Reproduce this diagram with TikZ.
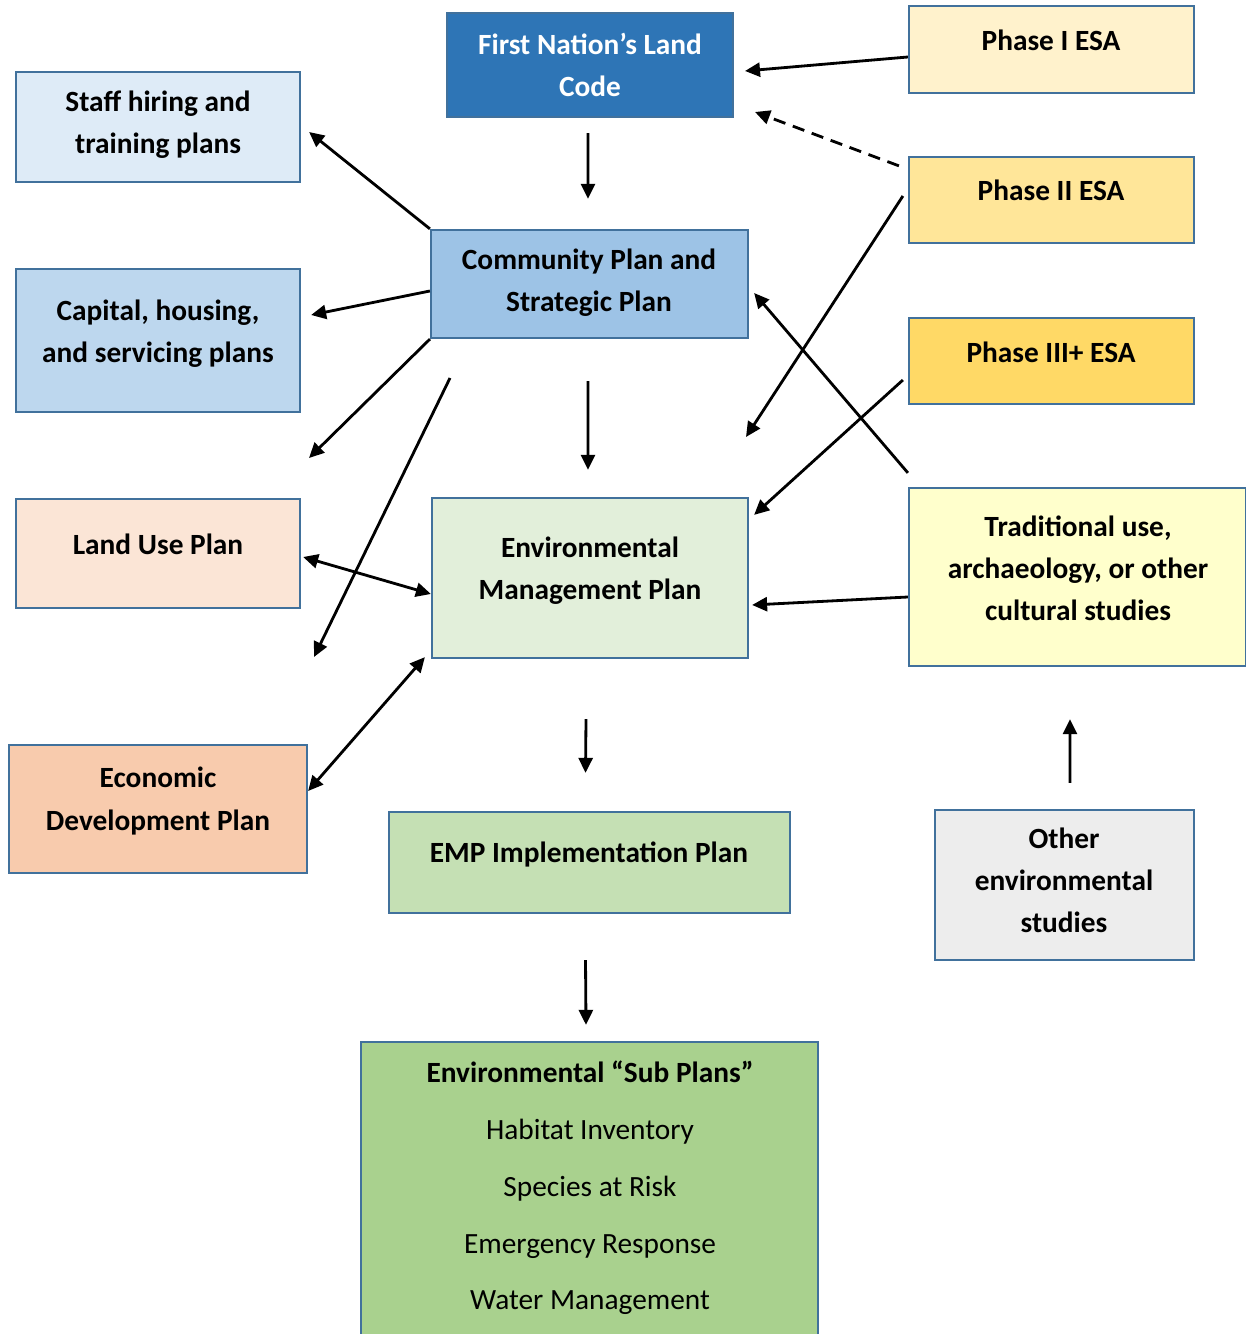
\documentclass[tikz,border=0pt]{standalone}
\usepackage{fontspec}
\setmainfont{Carlito}
\usepackage{tikz}
\usetikzlibrary{arrows.meta,calc}

\definecolor{edge}{HTML}{41719C}
\definecolor{landfill}{HTML}{2E75B6}
\definecolor{phonefill}{HTML}{FFF2CC}
\definecolor{phtwofill}{HTML}{FFE699}
\definecolor{phthreefill}{HTML}{FFD966}
\definecolor{stafffill}{HTML}{DEEBF7}
\definecolor{commfill}{HTML}{9DC3E6}
\definecolor{capfill}{HTML}{BDD7EE}
\definecolor{lufill}{HTML}{FBE5D6}
\definecolor{empfill}{HTML}{E2EFDA}
\definecolor{tradfill}{HTML}{FFFFCC}
\definecolor{econfill}{HTML}{F8CBAD}
\definecolor{implfill}{HTML}{C5E0B4}
\definecolor{otherfill}{HTML}{EDEDED}
\definecolor{subfill}{HTML}{A9D18E}

\begin{document}
\begin{tikzpicture}[x=0.02cm,y=-0.02cm,
    box/.style={draw=edge,line width=1.3pt,inner sep=0pt},
    lbl/.style={font=\fontsize{16.7}{24}\selectfont\bfseries,align=center},
    link/.style={line width=1.6pt,-{Triangle[length=0.3cm,width=0.28cm]}},
    both/.style={line width=1.6pt,{Triangle[length=0.3cm,width=0.28cm]}-{Triangle[length=0.3cm,width=0.28cm]}}]
    \useasboundingbox (0,0) rectangle (1246,1334);

    % boxes
    \node[box,fill=landfill,minimum width=5.72cm,minimum height=2.08cm] (land) at (590,65) {};
    \node[box,fill=phonefill,minimum width=5.7cm,minimum height=1.74cm] (ph1) at (1051.5,49.5) {};
    \node[box,fill=stafffill,minimum width=5.68cm,minimum height=2.2cm] (staff) at (158,127) {};
    \node[box,fill=phtwofill,minimum width=5.7cm,minimum height=1.72cm] (ph2) at (1051.5,200) {};
    \node[box,fill=commfill,minimum width=6.34cm,minimum height=2.16cm] (comm) at (589.5,284) {};
    \node[box,fill=capfill,minimum width=5.68cm,minimum height=2.86cm] (cap) at (158,340.5) {};
    \node[box,fill=phthreefill,minimum width=5.7cm,minimum height=1.72cm] (ph3) at (1051.5,361) {};
    \node[box,fill=lufill,minimum width=5.68cm,minimum height=2.18cm] (lu) at (158,553.5) {};
    \node[box,fill=empfill,minimum width=6.32cm,minimum height=3.2cm] (emp) at (590,578) {};
    \node[box,fill=tradfill,minimum width=6.74cm,minimum height=3.56cm] (trad) at (1077.5,577) {};
    \node[box,fill=econfill,minimum width=5.96cm,minimum height=2.56cm] (econ) at (158,809) {};
    \node[box,fill=implfill,minimum width=8.02cm,minimum height=2.02cm] (impl) at (589.5,862.5) {};
    \node[box,fill=otherfill,minimum width=5.18cm,minimum height=3.0cm] (other) at (1064.5,885) {};
    \node[box,fill=subfill,minimum width=9.14cm,minimum height=6.0cm] (sub) at (589.5,1192) {};

    % texts
    \node[lbl,text=white] (land-t) at (590,65) {First Nation’s Land\\Code};
    \node[lbl] (ph1-t) at (1051,40) {Phase I ESA};
    \node[lbl] (staff-t) at (158,124.5) {Staff hiring and\\training plans};
    \node[lbl] (ph2-t) at (1051,190) {Phase II ESA};
    \node[lbl] (comm-t) at (589,282.5) {Community Plan and\\Strategic Plan};
    \node[lbl] (cap-t) at (158,333.5) {Capital, housing,\\and servicing plans};
    \node[lbl] (ph3-t) at (1051,352) {Phase III+ ESA};
    \node[lbl] (lu-t) at (158,544) {Land Use Plan};
    \node[lbl] (emp-t) at (590,570.5) {Environmental\\Management Plan};
    \node[lbl] (trad-t) at (1078,568) {Traditional use,\\archaeology, or other\\cultural studies};
    \node[lbl] (econ-t) at (158,801) {Economic\\Development Plan};
    \node[lbl] (impl-t) at (589,854) {EMP Implementation Plan};
    \node[lbl] (other-t) at (1064,880) {Other\\environmental\\studies};
    \node[font=\fontsize{16.7}{32.3}\selectfont,align=center] (sub-t) at (590,1188)
        {\textbf{Environmental “Sub Plans”}\\Habitat Inventory\\Species at Risk\\Emergency Response\\Water Management};

    % free ends
    \coordinate (a1) at (745,71);
    \coordinate (a2) at (755,112);
    \coordinate (a3) at (309,458);
    \coordinate (a4s) at (450,378);
    \coordinate (a4e) at (314,657);
    \coordinate (a5) at (746,437);

    % arrows
    \draw[link] ([yshift=-0.15cm]ph1.west) -- (a1);
    \draw[link,dash pattern=on 7pt off 4.5pt] ([xshift=-0.18cm,yshift=-0.2cm]ph2.north west) -- (a2);
    \draw[link] ([xshift=-0.04cm,yshift=-0.3cm]land.south) -- ([xshift=-0.03cm,yshift=0.6cm]comm.north);
    \draw[link] (comm.north west) -- ([xshift=0.16cm,yshift=-0.1cm]staff.east);
    \draw[link] ([yshift=-0.14cm]comm.west) -- ([xshift=0.2cm,yshift=0.51cm]cap.east);
    \draw[link] (comm.south west) -- (a3);
    \draw[link] (a4s) -- (a4e);
    \draw[link] ([xshift=-0.03cm,yshift=-0.84cm]comm.south) -- ([xshift=-0.04cm,yshift=0.54cm]emp.north);
    \draw[link] ([xshift=-0.1cm,yshift=0.08cm]ph2.west) -- (a5);
    \draw[link] ([xshift=-0.1cm,yshift=-0.38cm]ph3.west) -- ([xshift=0.1cm,yshift=-0.36cm]emp.north east);
    \draw[link] ([yshift=0.28cm]trad.north west) -- ([xshift=0.1cm,yshift=-0.18cm]comm.east);
    \draw[link] ([yshift=-0.4cm]trad.west) -- ([xshift=0.06cm,yshift=-0.54cm]emp.east);
    \draw[both] ([xshift=0.04cm,yshift=-0.07cm]lu.east) -- ([yshift=-0.32cm]emp.west);
    \draw[both] ([yshift=0.36cm]econ.east) -- ([xshift=-0.12cm,yshift=0.04cm]emp.south west);
    \draw[link] ([xshift=-0.08cm,yshift=-1.2cm]emp.south) -- ([xshift=-0.08cm,yshift=0.76cm]impl.north);
    \draw[link] ([xshift=-0.08cm,yshift=-0.92cm]impl.south) -- ([xshift=-0.07cm,yshift=0.32cm]sub.north);
    \draw[link] ([xshift=0.11cm,yshift=0.52cm]other.north) -- ([xshift=-0.15cm,yshift=-1.04cm]trad.south);
\end{tikzpicture}
\end{document}
